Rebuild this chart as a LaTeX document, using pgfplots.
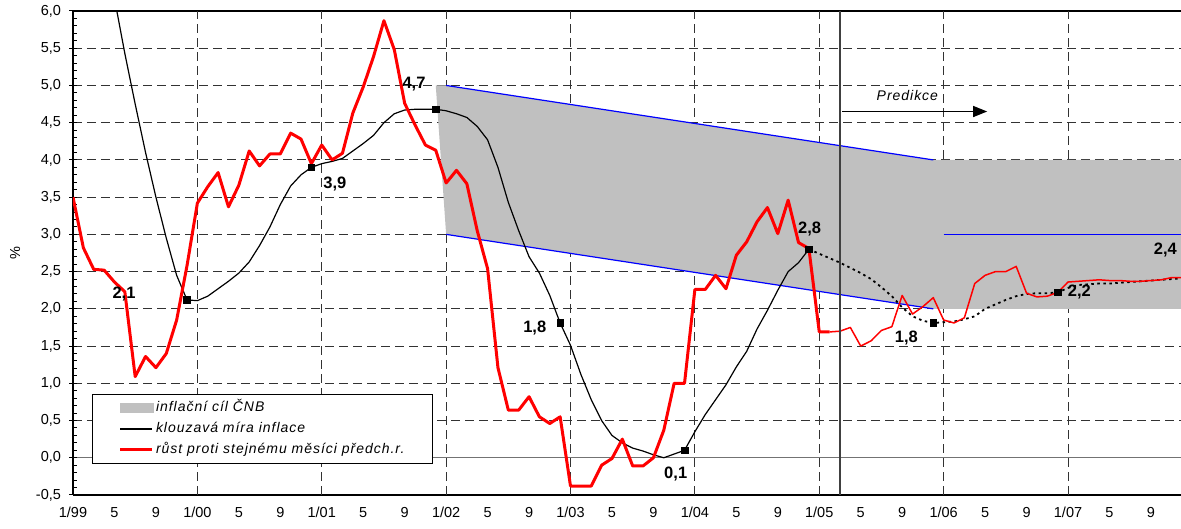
\documentclass[border=0pt]{standalone}
\usepackage{fontspec}
\setmainfont{Liberation Sans}
\newfontfamily\legfont[LetterSpace=7]{Liberation Sans}
\usepackage{pgfplots}
\usepackage{pgfplotstable}
\pgfplotsset{compat=1.18}
\usetikzlibrary{arrows.meta}
\definecolor{band}{RGB}{192,192,192}
\definecolor{gridc}{RGB}{50,50,50}

\pgfplotstableread{
m v
0 3.50
1 2.82
2 2.53
3 2.52
4 2.36
5 2.23
6 1.09
7 1.36
8 1.21
9 1.40
10 1.85
11 2.58
12 3.42
13 3.64
14 3.83
15 3.37
16 3.66
17 4.12
18 3.92
19 4.08
20 4.08
21 4.36
22 4.28
23 3.95
24 4.20
25 4.00
26 4.09
27 4.63
28 4.98
29 5.39
30 5.87
31 5.48
32 4.76
33 4.47
34 4.20
35 4.13
36 3.69
37 3.86
38 3.68
39 3.05
40 2.54
41 1.21
42 0.64
43 0.64
44 0.82
45 0.55
46 0.46
47 0.55
48 -0.38
49 -0.38
50 -0.38
51 -0.10
52 -0.01
53 0.25
54 -0.11
55 -0.11
56 0.00
57 0.37
58 1.00
59 1.00
60 2.26
61 2.26
62 2.45
63 2.27
64 2.72
65 2.90
66 3.17
67 3.36
68 3.01
69 3.46
70 2.89
71 2.81
72 1.69
73 1.69
}\redthick

\pgfplotstableread{
m v
73 1.69
74 1.70
75 1.75
76 1.50
77 1.57
78 1.71
79 1.76
80 2.18
81 1.93
82 2.03
83 2.15
84 1.85
85 1.81
86 1.88
87 2.34
88 2.45
89 2.50
90 2.50
91 2.57
92 2.21
93 2.16
94 2.17
95 2.22
96 2.36
97 2.37
98 2.38
99 2.39
100 2.38
101 2.38
102 2.37
103 2.37
104 2.38
105 2.39
106 2.42
107 2.42
}\redthin

\pgfplotstableread{
m v
0 9.00
1 8.20
2 7.50
3 6.80
4 6.17
5 5.43
6 4.75
7 4.10
8 3.50
9 2.95
10 2.45
11 2.12
12 2.11
13 2.17
14 2.27
15 2.37
16 2.48
17 2.63
18 2.85
19 3.10
20 3.40
21 3.65
22 3.80
23 3.90
24 3.95
25 3.98
26 4.02
27 4.12
28 4.22
29 4.33
30 4.50
31 4.62
32 4.67
33 4.68
34 4.68
35 4.68
36 4.66
37 4.62
38 4.57
39 4.45
40 4.27
41 3.90
42 3.43
43 3.05
44 2.70
45 2.48
46 2.18
47 1.81
48 1.51
49 1.12
50 0.78
51 0.50
52 0.30
53 0.20
54 0.13
55 0.09
56 0.04
57 0.00
58 0.05
59 0.10
60 0.35
61 0.58
62 0.78
63 0.98
64 1.22
65 1.43
66 1.73
67 1.98
68 2.25
69 2.50
70 2.62
71 2.80
}\klouz

\pgfplotstableread{
m v
71 2.80
72 2.74
73 2.68
74 2.62
75 2.55
76 2.48
77 2.40
78 2.29
79 2.17
80 2.02
81 1.90
82 1.84
83 1.81
84 1.82
85 1.83
86 1.86
87 1.90
88 2.00
89 2.06
90 2.12
91 2.17
92 2.20
93 2.21
94 2.21
95 2.22
96 2.28
97 2.32
98 2.33
99 2.34
100 2.34
101 2.35
102 2.36
103 2.37
104 2.38
105 2.39
106 2.40
107 2.41
}\klouzpred

\begin{document}
\begin{tikzpicture}
\begin{axis}[
  at={(0,0)}, anchor=south west,
  scale only axis, width=1108pt, height=484pt,
  xmin=0, xmax=106.9, ymin=-0.5, ymax=6,
  clip mode=individual,
  axis x line*=box, axis y line*=left,
  axis line style={line width=1.2pt, black},
  /pgf/number format/assume math mode=true,
  ticklabel style={font=\fontsize{14.5}{17}\selectfont},
  xticklabel style={yshift=-5pt},
  yticklabel style={xshift=-5pt},
  xtick={0,4,...,104},
  xticklabels={1/99,5,9,1/00,5,9,1/01,5,9,1/02,5,9,1/03,5,9,1/04,5,9,1/05,5,9,1/06,5,9,1/07,5,9},
  major x tick style={draw=none},
  extra x ticks={12,24,36,48,60,72,84,96},
  extra x tick labels={},
  extra x tick style={grid=major},
  ytick={-0.5,0,0.5,1,1.5,2,2.5,3,3.5,4,4.5,5,5.5,6},
  yticklabels={{-0,5},{0,0},{0,5},{1,0},{1,5},{2,0},{2,5},{3,0},{3,5},{4,0},{4,5},{5,0},{5,5},{6,0}},
  minor y tick num=4,
  tick align=center,
  major tick length=7pt,
  minor tick length=4pt,
  minor tick style={xshift=2pt, line width=1pt, black},
  major tick style={line width=1pt, black},
  ymajorgrids=true,
  major grid style={gridc, line width=1pt, dash pattern=on 9pt off 5pt},
  extra y ticks={0},
  extra y tick labels={},
  extra y tick style={grid=major, major grid style={solid, draw=black!55, line width=1.3pt}},
  ylabel={\%},
  ylabel style={at={(axis description cs:-0.0523,0.5)}, anchor=center, font=\fontsize{14.5}{17}\selectfont},
  legend style={at={(axis description cs:0.01715,0.2087)}, anchor=north west,
    draw=black, line width=1pt, fill=white, inner xsep=26pt, inner ysep=6pt,
    font=\legfont\itshape\fontsize{14}{16}\selectfont,
    row sep=6pt,
    nodes={inner xsep=2pt, inner ysep=0pt, text height=11pt, text depth=4pt},
    cells={anchor=west}},
  legend image code/.code={\draw[#1] (0pt,0pt) -- (32pt,0pt);},
]
% inflation target band
\addplot[fill=band, draw=none,
  legend image code/.code={\fill[band] (0pt,-5pt) rectangle (34pt,5pt);}]
  coordinates {(35,5) (36,5) (83,4) (106.9,4) (106.9,2) (83,2) (36,3)} -- cycle;
\addlegendentry{inflační cíl ČNB}
\addplot[blue, line width=1.2pt, forget plot] coordinates {(36,5) (83,4)};
\addplot[blue, line width=1.2pt, forget plot] coordinates {(36,3) (83,2)};
\addplot[blue, line width=1.2pt, forget plot] coordinates {(84,3) (106.9,3)};
% moving average
\addplot[black, line width=1.2pt] table[x=m, y=v] {\klouz};
\addlegendentry{klouzavá míra inflace}
\addplot[black, line width=1.8pt, dash pattern=on 2.5pt off 3.5pt, forget plot] table[x=m, y=v] {\klouzpred};
% y/y
\addplot[red, line width=3pt, line join=round] table[x=m, y=v] {\redthick};
\addlegendentry{růst proti stejnému měsíci předch.r.}
\addplot[red, line width=1.5pt, line join=round, forget plot] table[x=m, y=v] {\redthin};
% December markers
\addplot[only marks, mark=square*, mark size=3.3pt, black, mark options={line width=0.6pt}, forget plot]
  coordinates {(11,2.12) (23,3.90) (35,4.68) (47,1.81) (59,0.10) (71,2.80) (83,1.81) (95,2.22)};
% separator and prediction arrow
\draw[black!75, line width=1.5pt] (axis cs:74,-0.5) -- (axis cs:74,6);
\draw[black, line width=1.3pt, -{Triangle[length=14pt,width=11pt]}] (axis cs:74.2,4.65) -- (axis cs:88.2,4.65);
\node[font=\legfont\itshape\fontsize{14}{16}\selectfont] at (axis cs:80.5,4.86) {Predikce};
% value labels
\begin{scope}[every node/.style={font=\bfseries\fontsize{16.5}{18}\selectfont}]
\node at (axis cs:4.92,2.20) {2,1};
\node at (axis cs:25.27,3.68) {3,9};
\node at (axis cs:32.9,5.02) {4,7};
\node at (axis cs:44.55,1.74) {1,8};
\node at (axis cs:58.15,-0.22) {0,1};
\node at (axis cs:71.07,3.07) {2,8};
\node at (axis cs:80.4,1.61) {1,8};
\node at (axis cs:97.1,2.23) {2,2};
\node at (axis cs:105.4,2.79) {2,4};
\end{scope}
\end{axis}
\pgfresetboundingbox
\useasboundingbox (-73pt,-34pt) rectangle (1108pt,495pt);
\end{tikzpicture}
\end{document}
